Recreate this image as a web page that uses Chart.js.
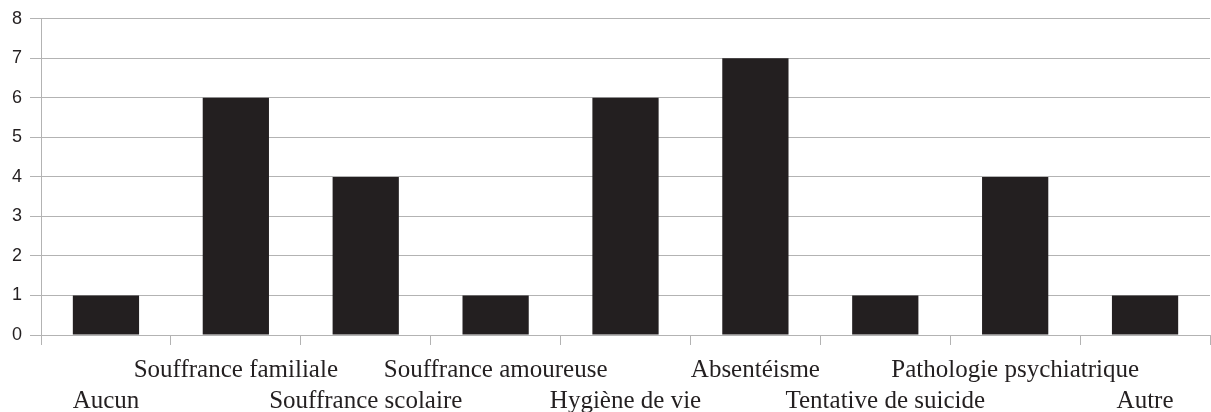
<!DOCTYPE html>
<html>
<head>
<meta charset="utf-8">
<script src="https://cdn.jsdelivr.net/npm/chart.js@4"></script>
<style>
  html, body { margin: 0; padding: 0; background: #fff; }
  #wrap { width: 1211px; height: 412px; position: relative; }
</style>
</head>
<body>
<div id="wrap"><canvas id="chart"></canvas></div>
<script>
const categories = [
  "Aucun",
  "Souffrance familiale",
  "Souffrance scolaire",
  "Souffrance amoureuse",
  "Hygiène de vie",
  "Absentéisme",
  "Tentative de suicide",
  "Pathologie psychiatrique",
  "Autre",
];
const counts = [1, 6, 4, 1, 6, 7, 1, 4, 1];
const yTicks = [0, 1, 2, 3, 4, 5, 6, 7, 8];

const gridColor = "#b3b3b3";

new Chart(document.getElementById("chart"), {
  type: "bar",
  data: {
    labels: categories,
    datasets: [
      {
        data: counts,
        backgroundColor: "#231f20",
        borderWidth: 0,
        barPercentage: 0.51,
        categoryPercentage: 1,
      },
    ],
  },
  options: {
    responsive: true,
    maintainAspectRatio: false,
    animation: false,
    layout: { padding: { top: 7, right: 1, left: 4, bottom: 0 } },
    plugins: { legend: { display: false }, tooltip: { enabled: false } },
    scales: {
      x: {
        offset: true,
        // the second label row is cut by the bottom edge in the original
        afterFit: (scale) => {
          scale.height = 77;
        },
        grid: {
          offset: true,
          drawOnChartArea: false,
          color: gridColor,
          tickLength: 10,
        },
        border: { display: true, color: gridColor },
        ticks: {
          autoSkip: false,
          maxRotation: 0,
          minRotation: 0,
          color: "#231f20",
          padding: 10,
          font: { family: "'Liberation Serif', 'Times New Roman', serif", size: 25, lineHeight: 1.24 },
          callback: (v, i) => (i % 2 === 0 ? ["", categories[i]] : [categories[i], ""]),
        },
      },
      y: {
        min: yTicks[0],
        max: yTicks[yTicks.length - 1],
        afterBuildTicks: (axis) => {
          axis.ticks = yTicks.map((v) => ({ value: v }));
        },
        grid: { color: gridColor, tickLength: 11 },
        border: { display: true, color: gridColor },
        ticks: {
          color: "#231f20",
          padding: 8,
          font: { family: "'Liberation Sans', Arial, sans-serif", size: 18 },
        },
      },
    },
  },
});
</script>
</body>
</html>
